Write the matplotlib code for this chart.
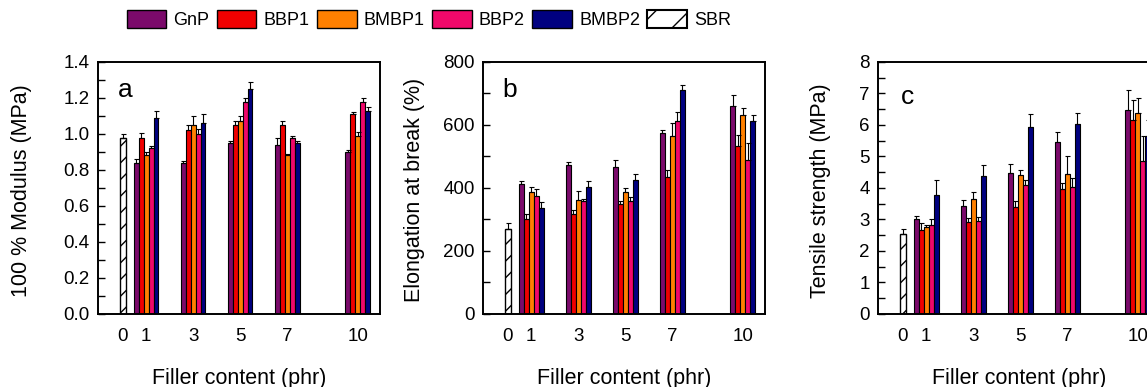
import matplotlib.pyplot as plt
from matplotlib.patches import Patch
from matplotlib.ticker import MultipleLocator
import numpy as np

plt.rcParams['font.family'] = ['Liberation Sans', 'DejaVu Sans']

filler = [1, 3, 5, 7, 10]
series = ['GnP', 'BBP1', 'BMBP1', 'BBP2', 'BMBP2']
colors = ['#7b0a6b', '#f00000', '#ff8000', '#f0086a', '#000080']

# 100 % modulus (MPa), rows follow "series", columns follow "filler"
mod_vals = [[0.84, 0.84, 0.95, 0.94, 0.90],
            [0.98, 1.02, 1.05, 1.05, 1.11],
            [0.88, 1.05, 1.07, 0.88, 0.99],
            [0.92, 1.00, 1.18, 0.98, 1.18],
            [1.09, 1.06, 1.25, 0.95, 1.13]]
mod_errs = [[0.02, 0.01, 0.01, 0.04, 0.01],
            [0.025, 0.03, 0.02, 0.02, 0.01],
            [0.02, 0.05, 0.03, 0.01, 0.02],
            [0.01, 0.03, 0.02, 0.01, 0.02],
            [0.04, 0.05, 0.04, 0.01, 0.02]]
sbr_mod = 0.98
sbr_mod_err = 0.02

# elongation at break (%)
elong_vals = [[413, 472, 466, 575, 659],
              [302, 317, 350, 434, 532],
              [386, 360, 386, 566, 630],
              [373, 358, 357, 611, 490],
              [336, 403, 426, 710, 612]]
elong_errs = [[10, 11, 24, 10, 37],
              [15, 14, 8, 24, 37],
              [17, 31, 14, 40, 24],
              [25, 8, 13, 30, 51],
              [18, 20, 19, 18, 19]]
sbr_elong = 270
sbr_elong_err = 17

# tensile strength (MPa)
ts_vals = [[3.00, 3.44, 4.48, 5.45, 6.46],
           [2.65, 2.91, 3.39, 3.95, 6.16],
           [2.75, 3.66, 4.40, 4.45, 6.38],
           [2.83, 2.95, 4.08, 4.02, 4.85],
           [3.79, 4.37, 5.92, 6.04, 5.64]]
ts_errs = [[0.12, 0.19, 0.28, 0.33, 0.66],
           [0.24, 0.14, 0.19, 0.21, 0.62],
           [0.06, 0.21, 0.18, 0.55, 0.46],
           [0.17, 0.14, 0.18, 0.30, 0.79],
           [0.47, 0.35, 0.44, 0.34, 0.50]]
sbr_ts = 2.54
sbr_ts_err = 0.16

panels = [
    ('a', '100 % Modulus (MPa)', mod_vals, mod_errs, sbr_mod, sbr_mod_err, 1.4, 0.2, 0.1, '%.1f'),
    ('b', 'Elongation at break (%)', elong_vals, elong_errs, sbr_elong, sbr_elong_err, 800, 200, 100, '%d'),
    ('c', 'Tensile strength (MPa)', ts_vals, ts_errs, sbr_ts, sbr_ts_err, 8, 1, 0.5, '%d'),
]

fig = plt.figure(figsize=(11.47, 3.87), dpi=100)
lefts = [0.0854, 0.4211, 0.7655]
ylab_x = [-0.235, -0.206, -0.166]
letter_pos = [(0.07, 0.89), (0.07, 0.89), (0.08, 0.86)]

bw = 0.21
offsets = (np.arange(5) - 2) * bw
x = np.array(filler, dtype=float)

for i, (letter, ylabel, vals, errs, sv, se, ymax, major, minor, fmt) in enumerate(panels):
    ax = fig.add_axes([lefts[i], 0.189, 0.2459, 0.651])
    for j in range(5):
        v = np.array(vals[j])
        e = np.array(errs[j])
        ax.bar(x + offsets[j], v, bw, color=colors[j], edgecolor='black',
               linewidth=0.8, zorder=2)
        ax.errorbar(x + offsets[j], v, yerr=[np.zeros_like(e), e], fmt='none',
                    ecolor='black', elinewidth=0.8, capsize=1.8, capthick=0.8, zorder=3)
    ax.bar([0], [sv], 0.25, color='white', edgecolor='black', hatch='//',
           linewidth=1.0, zorder=2)
    ax.errorbar([0], [sv], yerr=[[0], [se]], fmt='none', ecolor='black',
                elinewidth=0.8, capsize=1.8, capthick=0.8, zorder=3)

    ax.set_xlim(-1.05, 10.95)
    ax.set_ylim(0, ymax)
    ax.set_xticks([0] + filler)
    ax.set_xticklabels(['0'] + [str(f) for f in filler])
    ax.yaxis.set_major_locator(MultipleLocator(major))
    ax.yaxis.set_minor_locator(MultipleLocator(minor))
    ax.yaxis.set_major_formatter(plt.FormatStrFormatter(fmt))
    ax.tick_params(axis='y', which='both', direction='in', length=5, width=1.0,
                   labelsize=13.5, pad=6)
    ax.tick_params(axis='x', length=0, labelsize=13.5, pad=10)
    for s in ax.spines.values():
        s.set_linewidth(1.4)
    ax.set_xlabel('Filler content (phr)', fontsize=15.5)
    ax.xaxis.set_label_coords(0.5, -0.215)
    ax.set_ylabel(ylabel, fontsize=15.5)
    ax.yaxis.set_label_coords(ylab_x[i], 0.49)
    ax.text(letter_pos[i][0], letter_pos[i][1], letter, transform=ax.transAxes,
            fontsize=19, va='center', ha='left')

handles = [Patch(facecolor=c, edgecolor='black', linewidth=1.0) for c in colors]
handles.append(Patch(facecolor='white', edgecolor='black', hatch='/', linewidth=1.5))
fig.legend(handles, series + ['SBR'], loc='center left', bbox_to_anchor=(0.104, 0.95),
           ncol=6, frameon=False, fontsize=13, handlelength=2.2, handleheight=1.15,
           handletextpad=0.4, columnspacing=0.4, borderaxespad=0)

plt.savefig('out.png', dpi=100)
